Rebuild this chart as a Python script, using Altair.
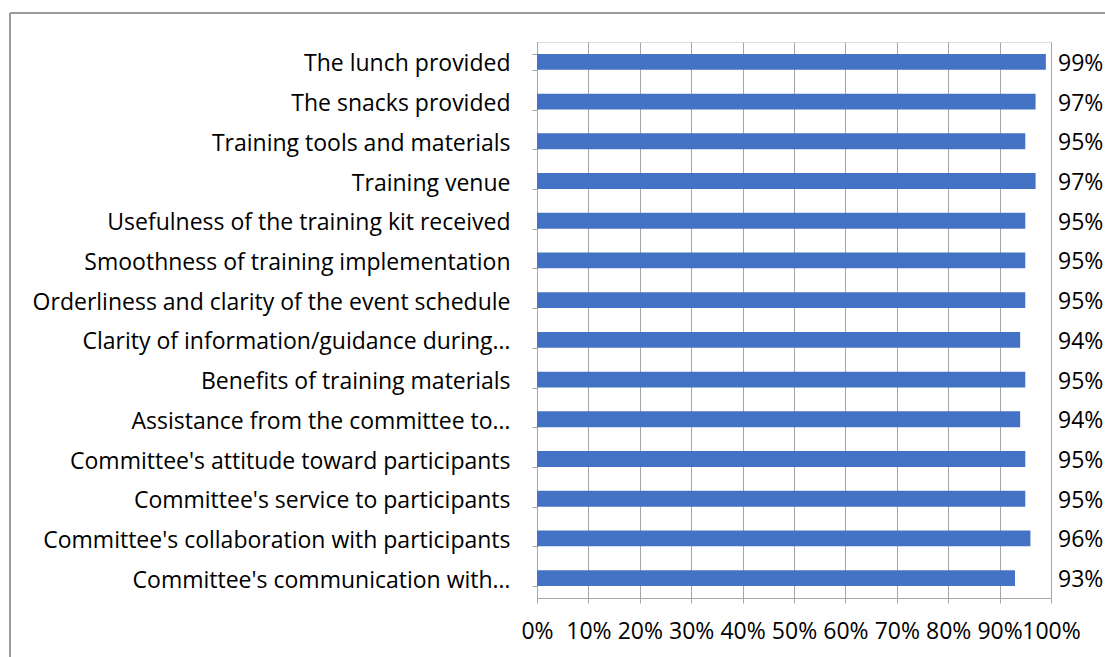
import altair as alt
import pandas as pd

categories = [
    "The lunch provided",
    "The snacks provided",
    "Training tools and materials",
    "Training venue",
    "Usefulness of the training kit received",
    "Smoothness of training implementation",
    "Orderliness and clarity of the event schedule",
    "Clarity of information/guidance during…",
    "Benefits of training materials",
    "Assistance from the committee to…",
    "Committee's attitude toward participants",
    "Committee's service to participants",
    "Committee's collaboration with participants",
    "Committee's communication with…",
]
values = [0.99, 0.97, 0.95, 0.97, 0.95, 0.95, 0.95, 0.94, 0.95, 0.94, 0.95, 0.95, 0.96, 0.93]
value_labels = ["99%", "97%", "95%", "97%", "95%", "95%", "95%", "94%", "95%", "94%", "95%", "95%", "96%", "93%"]

df = pd.DataFrame({"cat": categories, "val": values, "lab": value_labels})

FONT = "Open Sans"
FS = 23
GRAY = "#a6a6a6"

y_enc = alt.Y(
    "cat:N",
    sort=categories,
    title=None,
    scale=alt.Scale(paddingInner=0.6, paddingOuter=0.3),
    axis=alt.Axis(
        tickBand="extent",
        tickColor=GRAY,
        tickSize=5,
        domainColor=GRAY,
        labelFont=FONT,
        labelFontSize=FS,
        labelColor="#000000",
        labelPadding=22,
        labelOffset=2,
        labelLimit=600,
        grid=False,
    ),
)

bars = alt.Chart(df).mark_bar(color="#4472C4").encode(
    x=alt.X(
        "val:Q",
        title=None,
        scale=alt.Scale(domain=[0, 1], nice=False),
        axis=alt.Axis(
            format=".0%",
            values=[i / 10 for i in range(11)],
            grid=True,
            gridColor=GRAY,
            tickColor=GRAY,
            tickSize=5,
            domainColor=GRAY,
            labelFont=FONT,
            labelFontSize=FS,
            labelColor="#000000",
            labelPadding=17,
            labelFlush=False,
            labelOverlap=False,
        ),
    ),
    y=y_enc,
)

texts = alt.Chart(df).mark_text(
    align="left", baseline="middle", font=FONT, fontSize=FS, color="#000000", dx=7, dy=2
).encode(
    x=alt.value(514),
    y=alt.Y("cat:N", sort=categories),
    text="lab:N",
)

border_left = alt.Chart(df).mark_rule(color="#999999", strokeWidth=1).encode(
    x=alt.value(-527), y=alt.value(-29), y2=alt.value(640)
)
border_top = alt.Chart(df).mark_rule(color="#999999", strokeWidth=1).encode(
    x=alt.value(-527), x2=alt.value(600), y=alt.value(-29)
)

chart = (
    alt.layer(border_left, border_top, bars, texts)
    .properties(
        width=514,
        height=556,
        autosize=alt.AutoSizeParams(type="none"),
        padding={"left": 537, "top": 42, "right": 54, "bottom": 59},
    )
    .configure_view(stroke=None)
    .configure(background="white")
)

chart.save("out.html", embed_options={"renderer": "svg", "actions": False})
